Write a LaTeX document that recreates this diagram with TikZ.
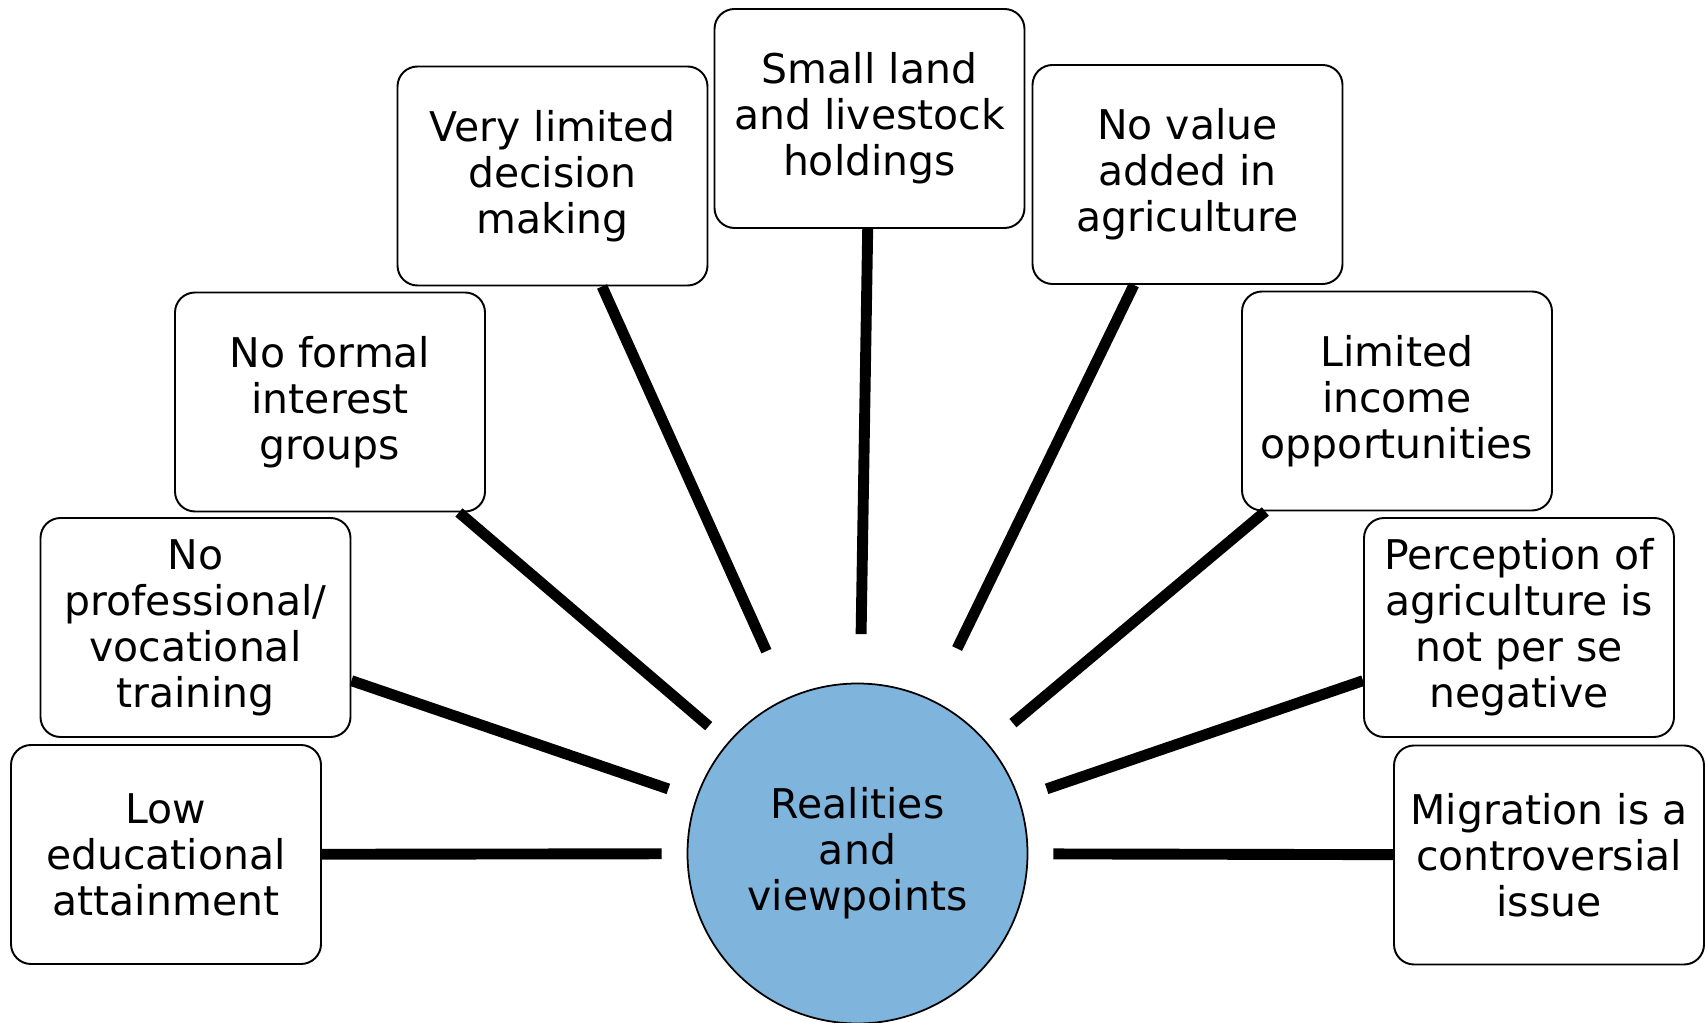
\documentclass[tikz,border=0pt]{standalone}
\usepackage{fontspec}
\setmainfont{DejaVu Sans}
\definecolor{hubblue}{RGB}{127,180,220}

\begin{document}
\begin{tikzpicture}[
  fact/.style  = {rectangle, draw, line width=1.1pt, rounded corners=4mm, minimum width=6.2cm, minimum height=4.38cm, inner sep=2pt, align=center, font=\fontsize{23.3}{26.2}\selectfont},
  hub/.style   = {circle, draw, line width=1pt, fill=hubblue, minimum size=6.8cm, inner sep=0pt, align=center, font=\fontsize{23.3}{26.2}\selectfont},
  spoke/.style = {line width=6.2pt, shorten >=0.5cm},
  ]
  \useasboundingbox (0,0) rectangle (34.16,20.44);

  % Centre
  \node (hub)        at (17.15, 3.37) [hub]  {Realities\\and\\viewpoints};
  % Left side
  \node (low)        at ( 3.32, 3.35) [fact] {Low\\educational\\attainment};
  \node (training)   at ( 3.91, 7.89) [fact] {No\\professional/\\vocational\\training};
  \node (groups)     at ( 6.60,12.40) [fact] {No formal\\interest\\groups};
  \node (decision)   at (11.05,16.92) [fact] {Very limited\\decision\\making};
  % Top
  \node (land)       at (17.39,18.07) [fact] {Small land\\and livestock\\holdings};
  % Right side
  \node (value)      at (23.75,16.95) [fact] {No value\\added in\\agriculture};
  \node (income)     at (27.94,12.42) [fact] {Limited\\income\\opportunities};
  \node (perception) at (30.38, 7.89) [fact] {Perception of\\agriculture is\\not per se\\negative};
  \node (migration)  at (30.98, 3.34) [fact] {Migration is a\\controversial\\issue};

  % Spokes towards the centre
  \draw
  (low)        edge [spoke]                    (hub)
  (training)   edge [spoke, shorten >=0.58cm]  (hub)
  (groups)     edge [spoke]                    (hub)
  (decision)   edge [spoke, shorten >=1.02cm]  (hub)
  (land)       edge [spoke, shorten >=0.97cm]  (hub)
  (value)      edge [spoke, shorten >=1.14cm]  (hub)
  (income)     edge [spoke, shorten >=0.64cm]  (hub)
  (perception) edge [spoke, shorten >=0.58cm]  (hub)
  (migration)  edge [spoke]                    (hub);
\end{tikzpicture}
\end{document}
